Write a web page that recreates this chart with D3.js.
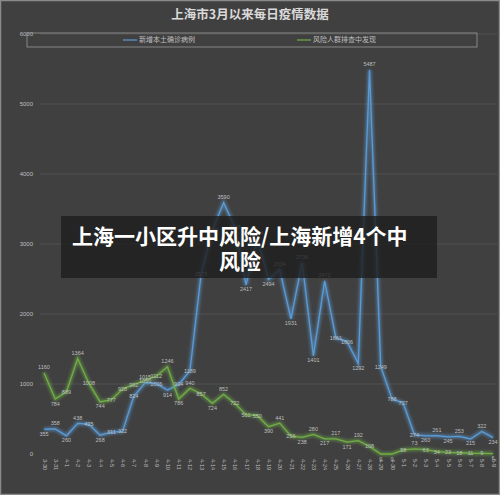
<!DOCTYPE html>
<html><head><meta charset="utf-8">
<script src="https://cdn.jsdelivr.net/npm/d3@7"></script>
<style>html,body{margin:0;padding:0;background:#404040;}svg{display:block;}</style>
</head><body>
<svg id="c" width="500" height="495"></svg>
<script>
const dates = ["3-30","3-31","4-1","4-2","4-3","4-4","4-5","4-6","4-7","4-8","4-9","4-10","4-11","4-12","4-13","4-14","4-15","4-16","4-17","4-18","4-19","4-20","4-21","4-22","4-23","4-24","4-25","4-26","4-27","4-28","4-29","4-30","5-1","5-2","5-3","5-4","5-5","5-6","5-7","5-8","5-9"];
const localCases = [355,358,260,438,425,268,311,322,824,1015,1006,914,994,1189,2573,3200,3590,3238,2417,3084,2494,2634,1931,2736,1401,2472,1661,1606,1292,5487,1249,788,727,274,260,261,245,253,215,322,234];
const screenedCases = [1160,784,889,1364,1008,744,777,928,992,1050,1112,1246,786,940,857,724,852,722,561,550,390,441,256,238,280,217,217,171,192,108,0,0,58,73,63,34,23,18,11,9,6];
const yTicks = [0,1000,2000,3000,4000,5000,6000];
const seriesNames = ["新增本土确诊病例","风险人群排查中发现"];
const title = "上海市3月以来每日疫情数据";
const overlay = ["上海一小区升中风险/上海新增4个中","风险"];

const svg = d3.select("#c");
const font = "'Noto Sans CJK SC','Noto Sans',sans-serif";
const numFont = "'Liberation Sans',Arial,sans-serif";
svg.append("rect").attr("x",0).attr("y",0).attr("width",500).attr("height",495).attr("fill","#404040");
svg.append("rect").attr("x",0.5).attr("y",0.5).attr("width",499).attr("height",494).attr("fill","none").attr("stroke","#8a8a8a").attr("stroke-width",1.5);

const defs = svg.append("defs");
const f = defs.append("filter").attr("id","glow").attr("x","-10%").attr("y","-10%").attr("width","120%").attr("height","120%");
f.append("feGaussianBlur").attr("stdDeviation",1.6);

const x = d3.scalePoint().domain(dates).range([44,493]);
const y = d3.scaleLinear().domain([0,6000]).range([454,34]);

// gridlines
svg.append("g").selectAll("line").data(yTicks.filter(d=>d>0)).join("line")
  .attr("x1",40).attr("x2",497).attr("y1",d=>y(d)).attr("y2",d=>y(d))
  .attr("stroke","#525252").attr("stroke-width",0.9);

// y axis
const ya = d3.axisLeft(y).tickValues(yTicks).tickFormat(d3.format("d")).tickSize(0).tickPadding(0);
const yg = svg.append("g").attr("transform","translate(33,0)").call(ya);
yg.select(".domain").remove();
yg.selectAll("text").attr("fill","#bfbfbf").attr("font-size",6).attr("font-family",numFont);

// x axis
const xa = d3.axisBottom(x).tickSize(0).tickPadding(0);
const xg = svg.append("g").attr("transform","translate(0,459)").call(xa);
xg.select(".domain").remove();
xg.selectAll("text").attr("fill","#bfbfbf").attr("font-size",5.5).attr("font-family",numFont)
  .attr("transform","rotate(90)").attr("text-anchor","start").attr("x",0).attr("y",0).attr("dy","0.35em").attr("dx",0);

// title
svg.append("text").attr("x",250).attr("y",19).attr("text-anchor","middle").attr("fill","#d9d9d9")
  .attr("font-size",12.5).attr("font-weight","bold").attr("font-family",font).text(title);

// legend
svg.append("rect").attr("x",27).attr("y",33).attr("width",450).attr("height",14).attr("fill","none").attr("stroke","#9a9a9a").attr("stroke-width",0.8);
const colors = ["#5b9bd5","#70ad47"];
const lx = [123,297];
seriesNames.forEach((n,i)=>{
  svg.append("line").attr("x1",lx[i]).attr("x2",lx[i]+14).attr("y1",40).attr("y2",40).attr("stroke",colors[i]).attr("stroke-width",1.2);
  svg.append("text").attr("x",lx[i]+16).attr("y",40).attr("dy","0.35em").attr("fill","#bfbfbf").attr("font-size",7).attr("font-family",font).text(n);
});

function drawSeries(vals,color){
  const line = d3.line().x((d,i)=>x(dates[i])).y(d=>y(d));
  svg.append("path").datum(vals).attr("d",line).attr("fill","none").attr("stroke",color).attr("stroke-width",4).attr("opacity",0.55).attr("filter","url(#glow)");
  svg.append("path").datum(vals).attr("d",line).attr("fill","none").attr("stroke",color).attr("stroke-width",1.3);
}
function drawLabels(vals){
  svg.append("g").selectAll("text").data(vals).join("text")
    .attr("x",(d,i)=>x(dates[i]))
    .attr("y",(d,i)=>{
      const p = i>0?vals[i-1]:d, n = i<vals.length-1?vals[i+1]:d;
      if(d<=p && d<=n) return y(d)+6.5;
      if(d>=p && d>=n) return y(d)-3.5;
      return y(d)+2;
    })
    .attr("text-anchor","middle").attr("fill","#bfbfbf").attr("font-size",5.5)
    .attr("font-family",numFont).text(d=>d);
}
drawSeries(localCases,colors[0]);
drawSeries(screenedCases,colors[1]);
drawLabels(localCases);
drawLabels(screenedCases);

// overlay
svg.append("rect").attr("x",61).attr("y",216).attr("width",376).attr("height",62).attr("fill","#1e1e1e").attr("opacity",0.82);
overlay.forEach((t,i)=>{
  svg.append("text").attr("x",i===0?72:219).attr("y",i===0?244:269).attr("fill","#ffffff")
    .attr("font-size",21).attr("font-weight","bold").attr("font-family",font).text(t);
});
</script>
</body></html>
